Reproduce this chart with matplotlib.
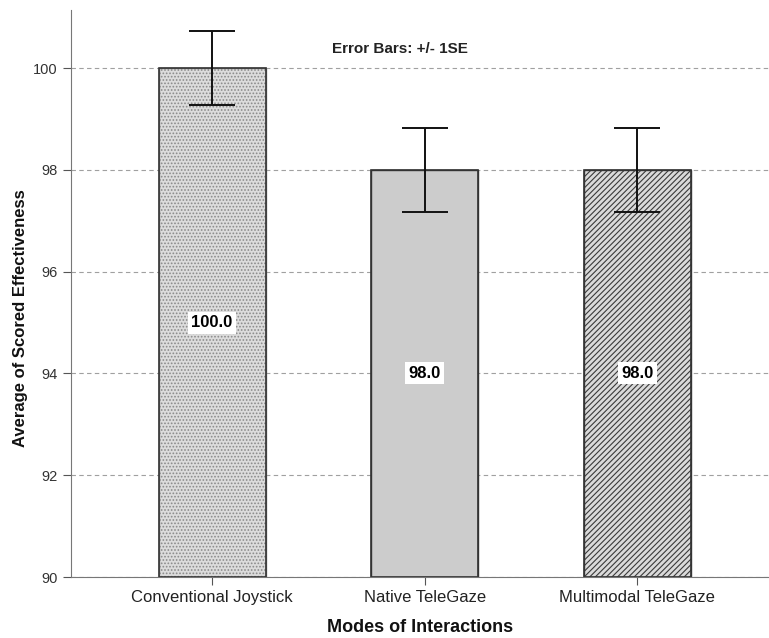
import numpy as np
import matplotlib.pyplot as plt

plt.rcParams['font.family'] = ['Liberation Sans', 'DejaVu Sans']
plt.rcParams['hatch.linewidth'] = 0.8

# Data
modes = ['Conventional Joystick', 'Native TeleGaze', 'Multimodal TeleGaze']
means = [100.0, 98.0, 98.0]
se = [0.73, 0.83, 0.83]

fig = plt.figure(figsize=(7.69, 6.38), dpi=100)
ax = fig.add_axes([0.0923, 0.0956, 0.9077, 0.8884])

x = np.arange(len(modes))
faces = ['#dcdcdc', '#cccccc', '#dadada']
hatches = ['.....', None, '//////']
hatch_cols = ['#8a8a8a', '#333333', '#3a3a3a']

ax.yaxis.grid(True, linestyle=(0, (4, 3)), color='#a0a0a0', linewidth=0.8)
ax.set_axisbelow(True)

for i in range(len(modes)):
    ax.bar(x[i], means[i] - 90, bottom=90, width=0.503, color=faces[i],
           edgecolor=hatch_cols[i], linewidth=1.0, hatch=hatches[i], zorder=2)
    # outline drawn separately so the hatch colour can differ from the edge
    ax.bar(x[i], means[i] - 90, bottom=90, width=0.503, fill=False,
           edgecolor='#333333', linewidth=1.2, zorder=2.5)

ax.errorbar(x, means, yerr=se, fmt='none', ecolor='#111111', elinewidth=1.4,
            capsize=16.5, capthick=1.4, zorder=3)

for i in range(len(modes)):
    ax.text(x[i], (90 + means[i]) / 2, f'{means[i]:.1f}', ha='center', va='center',
            fontsize=12, fontweight='bold', zorder=4,
            bbox=dict(facecolor='white', edgecolor='none', pad=2.5))

ax.text(0.886, 100.37, 'Error Bars: +/- 1SE', ha='center', va='center',
        fontsize=11, fontweight='bold', color='#222222')

ax.set_xlim(-0.664, 2.62)
ax.set_ylim(90, 101.14)
ax.set_yticks([90, 92, 94, 96, 98, 100])
ax.set_xticks(x)
ax.set_xticklabels(modes, fontsize=12, color='#222222')
ax.tick_params(axis='y', labelsize=10.5, length=6, color='#555555', labelcolor='#333333')
ax.tick_params(axis='x', length=6, color='#555555')

for s in ['top', 'right']:
    ax.spines[s].set_visible(False)
ax.spines['left'].set_color('#777777')
ax.spines['bottom'].set_color('#777777')

ax.set_ylabel('Average of Scored Effectiveness', fontsize=12, fontweight='bold',
              color='#111111')
ax.yaxis.set_label_coords(-0.062, 0.457)
ax.set_xlabel('Modes of Interactions', fontsize=13, fontweight='bold',
              labelpad=10, color='#111111')

fig.savefig('out.png', dpi=100)
